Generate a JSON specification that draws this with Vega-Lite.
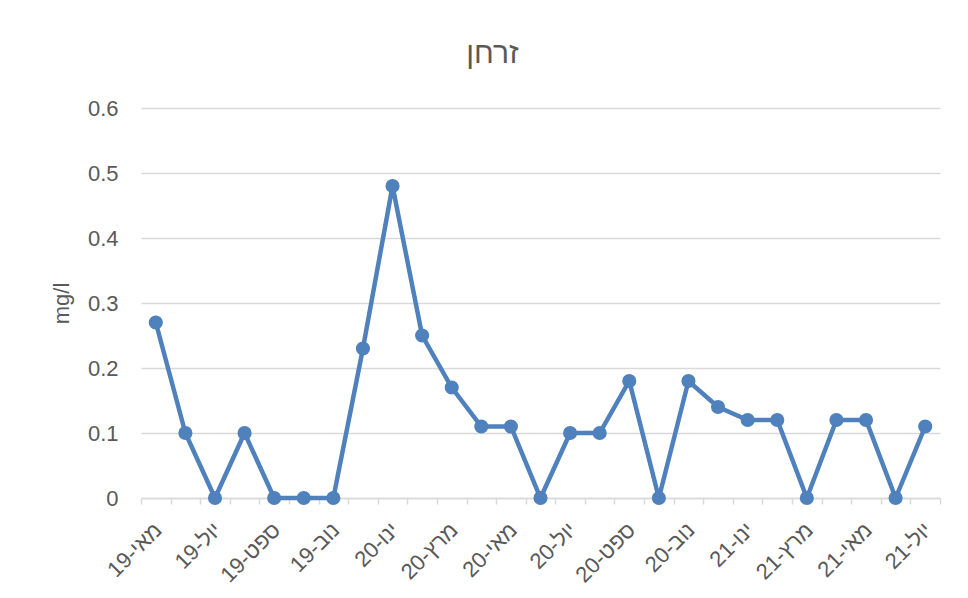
{
  "$schema": "https://vega.github.io/schema/vega-lite/v6.json",
  "autosize": "none",
  "width": 799,
  "height": 390,
  "padding": {"left": 141, "top": 108, "right": 28, "bottom": 100},
  "background": "white",
  "title": {
    "text": "זרחן",
    "fontSize": 30,
    "font": "Liberation Sans",
    "fontWeight": "normal",
    "color": "#595959",
    "anchor": "middle",
    "frame": "group",
    "dx": -48,
    "offset": 28
  },
  "data": {
    "values": [
      {"month": "19-מאי", "v": 0.27},
      {"month": "19-יונ", "v": 0.10},
      {"month": "19-יול", "v": 0},
      {"month": "19-אוג", "v": 0.10},
      {"month": "19-ספט", "v": 0},
      {"month": "19-אוק", "v": 0},
      {"month": "19-נוב", "v": 0},
      {"month": "19-דצמ", "v": 0.23},
      {"month": "20-ינו", "v": 0.48},
      {"month": "20-פבר", "v": 0.25},
      {"month": "20-מרץ", "v": 0.17},
      {"month": "20-אפר", "v": 0.11},
      {"month": "20-מאי", "v": 0.11},
      {"month": "20-יונ", "v": 0},
      {"month": "20-יול", "v": 0.10},
      {"month": "20-אוג", "v": 0.10},
      {"month": "20-ספט", "v": 0.18},
      {"month": "20-אוק", "v": 0},
      {"month": "20-נוב", "v": 0.18},
      {"month": "20-דצמ", "v": 0.14},
      {"month": "21-ינו", "v": 0.12},
      {"month": "21-פבר", "v": 0.12},
      {"month": "21-מרץ", "v": 0},
      {"month": "21-אפר", "v": 0.12},
      {"month": "21-מאי", "v": 0.12},
      {"month": "21-יונ", "v": 0},
      {"month": "21-יול", "v": 0.11}
    ]
  },
  "mark": {
    "type": "line",
    "color": "#4F81BD",
    "strokeWidth": 4.5,
    "point": {"filled": true, "size": 200, "color": "#4F81BD", "opacity": 1}
  },
  "encoding": {
    "x": {
      "field": "month",
      "type": "ordinal",
      "sort": null,
      "scale": {"type": "band", "paddingInner": 0, "paddingOuter": 0},
      "bandPosition": 0.5,
      "axis": {
        "title": null,
        "tickBand": "extent",
        "labelAngle": -45,
        "labelExpr": "indexof(['19-מאי','19-יול','19-ספט','19-נוב','20-ינו','20-מרץ','20-מאי','20-יול','20-ספט','20-נוב','21-ינו','21-מרץ','21-מאי','21-יול'], datum.label) >= 0 ? datum.label : ''",
        "labelFont": "Liberation Sans",
        "labelFontSize": 22,
        "labelColor": "#595959",
        "labelPadding": 15,
        "labelOffset": -5,
        "labelOverlap": false,
        "domainColor": "#d9d9d9",
        "domainWidth": 1.5,
        "tickColor": "#d9d9d9",
        "tickWidth": 1.5,
        "tickSize": 6,
        "grid": false
      }
    },
    "y": {
      "field": "v",
      "type": "quantitative",
      "scale": {"domain": [0, 0.6], "nice": false},
      "axis": {
        "title": "mg/l",
        "titleFont": "Liberation Sans",
        "titleFontSize": 22,
        "titleFontWeight": "normal",
        "titleColor": "#595959",
        "titlePadding": 14,
        "values": [0, 0.1, 0.2, 0.3, 0.4, 0.5, 0.6],
        "format": "~g",
        "labelFont": "Liberation Sans",
        "labelFontSize": 22,
        "labelColor": "#595959",
        "labelPadding": 23,
        "ticks": false,
        "domain": false,
        "grid": true,
        "gridColor": "#d9d9d9",
        "gridWidth": 1.5
      }
    }
  },
  "config": {"view": {"stroke": null}}
}
